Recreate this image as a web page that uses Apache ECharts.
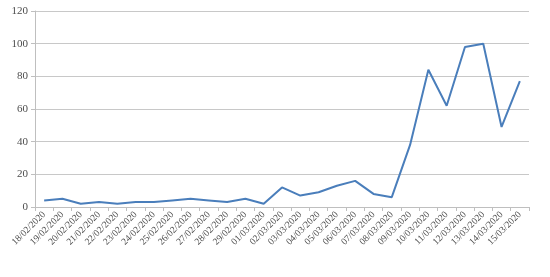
<!DOCTYPE html>
<html><head><meta charset="utf-8">
<script src="https://cdn.jsdelivr.net/npm/echarts@6/dist/echarts.min.js"></script>
<style>html,body{margin:0;padding:0;background:#fff}#c{width:550px;height:277px}</style>
</head><body><div id="c"></div>
<script>
const categories = ["18/02/2020","19/02/2020","20/02/2020","21/02/2020","22/02/2020","23/02/2020","24/02/2020","25/02/2020","26/02/2020","27/02/2020","28/02/2020","29/02/2020","01/03/2020","02/03/2020","03/03/2020","04/03/2020","05/03/2020","06/03/2020","07/03/2020","08/03/2020","09/03/2020","10/03/2020","11/03/2020","12/03/2020","13/03/2020","14/03/2020","15/03/2020"];
const values = [4,5,2,3,2,3,3,4,5,4,3,5,2,12,7,9,13,16,8,6,38,84,62,98,100,49,77];
const yTicks = [0,20,40,60,80,100,120];

const chart = echarts.init(document.getElementById('c'), null, {renderer:'canvas'});
chart.setOption({
  animation:false,
  grid:{left:35,right:21,top:11,bottom:70,containLabel:false},
  xAxis:{
    type:'category', data:categories, boundaryGap:true,
    axisLine:{lineStyle:{color:'#bfbfbf',width:1}},
    axisTick:{show:true,length:4,lineStyle:{color:'#bfbfbf'}},
    axisLabel:{rotate:45,fontFamily:'Liberation Serif',fontSize:9.5,color:'#4d4d4d',margin:6,interval:0}
  },
  yAxis:{
    type:'value', min:yTicks[0], max:yTicks[yTicks.length-1], interval:20,
    axisLine:{show:true,lineStyle:{color:'#bfbfbf'}},
    axisTick:{show:true,length:4,lineStyle:{color:'#bfbfbf'}},
    splitLine:{lineStyle:{color:'#c8c8c8',width:1}},
    axisLabel:{fontFamily:'Liberation Serif',fontSize:11,color:'#4d4d4d',margin:7}
  },
  series:[{type:'line',data:values,symbol:'none',lineStyle:{color:'#4a7ebb',width:2}}]
});
</script></body></html>
